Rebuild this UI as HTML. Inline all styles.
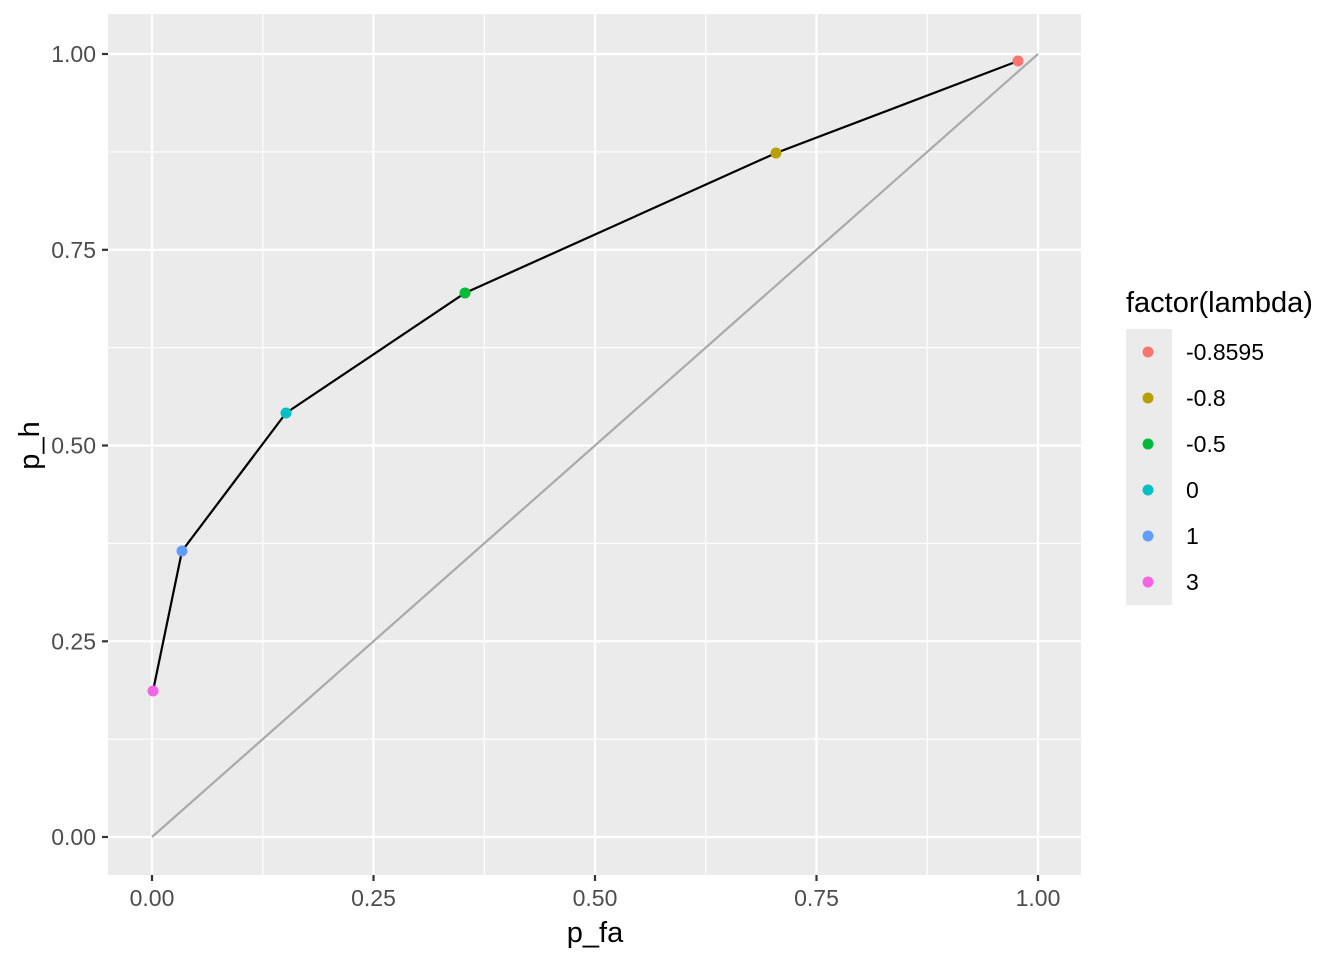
<!DOCTYPE html>
<html><head><meta charset="utf-8"><style>
html,body{margin:0;padding:0;background:#fff;}
svg{display:block;font-family:"Liberation Sans",Arial,sans-serif;}
</style></head><body>
<svg width="1344" height="960" viewBox="0 0 1344 960">
<rect x="108" y="14" width="973" height="861" fill="#EBEBEB"/>
<g stroke="#fff" stroke-width="1.1">
<line x1="262.75" y1="14" x2="262.75" y2="875"/>
<line x1="484.25" y1="14" x2="484.25" y2="875"/>
<line x1="705.75" y1="14" x2="705.75" y2="875"/>
<line x1="927.25" y1="14" x2="927.25" y2="875"/>
<line x1="108" y1="739.1" x2="1081" y2="739.1"/>
<line x1="108" y1="543.4" x2="1081" y2="543.4"/>
<line x1="108" y1="347.6" x2="1081" y2="347.6"/>
<line x1="108" y1="151.9" x2="1081" y2="151.9"/>
</g>
<g stroke="#fff" stroke-width="2.2">
<line x1="152" y1="14" x2="152" y2="875"/>
<line x1="373.5" y1="14" x2="373.5" y2="875"/>
<line x1="595" y1="14" x2="595" y2="875"/>
<line x1="816.5" y1="14" x2="816.5" y2="875"/>
<line x1="1038" y1="14" x2="1038" y2="875"/>
<line x1="108" y1="837" x2="1081" y2="837"/>
<line x1="108" y1="641.3" x2="1081" y2="641.3"/>
<line x1="108" y1="445.5" x2="1081" y2="445.5"/>
<line x1="108" y1="249.8" x2="1081" y2="249.8"/>
<line x1="108" y1="54" x2="1081" y2="54"/>
</g>
<line x1="152" y1="837" x2="1038" y2="54" stroke="#AAAAAA" stroke-width="2.2"/>
<polyline points="1018,61 776,153 465,293 286,413 182,551 153,691" fill="none" stroke="#000" stroke-width="2.2"/>
<circle cx="1018" cy="61" r="5.5" fill="#F8766D"/>
<circle cx="776" cy="153" r="5.5" fill="#B79F00"/>
<circle cx="465" cy="293" r="5.5" fill="#00BA38"/>
<circle cx="286" cy="413" r="5.5" fill="#00BFC4"/>
<circle cx="182" cy="551" r="5.5" fill="#619CFF"/>
<circle cx="153" cy="691" r="5.5" fill="#F564E3"/>
<g stroke="#333" stroke-width="2.2">
<line x1="152" y1="875" x2="152" y2="881"/><line x1="373.5" y1="875" x2="373.5" y2="881"/>
<line x1="595" y1="875" x2="595" y2="881"/><line x1="816.5" y1="875" x2="816.5" y2="881"/>
<line x1="1038" y1="875" x2="1038" y2="881"/>
<line x1="102" y1="837" x2="108" y2="837"/><line x1="102" y1="641.3" x2="108" y2="641.3"/>
<line x1="102" y1="445.5" x2="108" y2="445.5"/><line x1="102" y1="249.8" x2="108" y2="249.8"/>
<line x1="102" y1="54" x2="108" y2="54"/>
</g>
<g fill="#4D4D4D" font-size="23" text-anchor="middle">
<text x="152" y="906">0.00</text><text x="373.5" y="906">0.25</text><text x="595" y="906">0.50</text>
<text x="816.5" y="906">0.75</text><text x="1038" y="906">1.00</text>
</g>
<g fill="#4D4D4D" font-size="23" text-anchor="end">
<text x="96" y="845">0.00</text><text x="96" y="649.3">0.25</text><text x="96" y="453.5">0.50</text>
<text x="96" y="257.8">0.75</text><text x="96" y="62">1.00</text>
</g>
<text x="595" y="942" font-size="29" text-anchor="middle" fill="#000">p_fa</text>
<text transform="translate(39,445.5) rotate(-90)" font-size="29" text-anchor="middle" fill="#000">p_h</text>
<text x="1126" y="312" font-size="29" fill="#000">factor(lambda)</text>
<rect x="1126" y="329" width="46" height="276" fill="#EBEBEB"/>
<circle cx="1148" cy="352" r="5.5" fill="#F8766D"/>
<circle cx="1148" cy="398" r="5.5" fill="#B79F00"/>
<circle cx="1148" cy="444" r="5.5" fill="#00BA38"/>
<circle cx="1148" cy="490" r="5.5" fill="#00BFC4"/>
<circle cx="1148" cy="536" r="5.5" fill="#619CFF"/>
<circle cx="1148" cy="582" r="5.5" fill="#F564E3"/>
<g font-size="23" fill="#000">
<text x="1186" y="360">-0.8595</text><text x="1186" y="406">-0.8</text><text x="1186" y="452">-0.5</text>
<text x="1186" y="498">0</text><text x="1186" y="544">1</text><text x="1186" y="590">3</text>
</g>
</svg>
</body></html>
